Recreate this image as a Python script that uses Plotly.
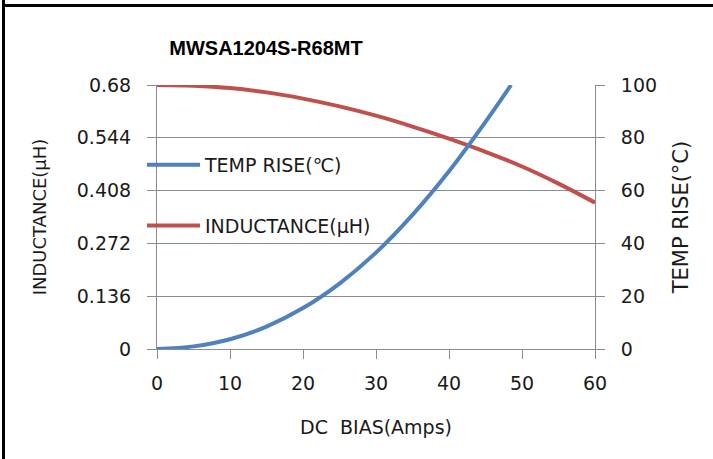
import plotly.graph_objects as go

# ---- data ----
bias_ind = [0, 5, 10, 15, 20, 25, 30, 35, 40, 45, 50, 55, 60]
inductance = [0.68, 0.678, 0.672, 0.661, 0.645, 0.625, 0.601, 0.573, 0.542, 0.508, 0.470, 0.426, 0.377]

bias_temp = [0, 5, 10, 15, 20, 25, 30, 35, 40, 45, 48.5]
temp_rise = [0, 1, 3.7, 8.5, 15.5, 24.8, 36.5, 50.8, 67.3, 86, 100]

left_ticks = [0, 0.136, 0.272, 0.408, 0.544, 0.68]
left_tick_text = ["0", "0.136", "0.272", "0.408", "0.544", "0.68"]
right_ticks = [0, 20, 40, 60, 80, 100]
x_ticks = [0, 10, 20, 30, 40, 50, 60]

BLUE = "#4F81BD"
RED = "#C0504D"
GRID = "#8C8C8C"
TXT = "#1a1a1a"
FONT = "DejaVu Sans"

W, H = 713, 459
L, R, T, B = 157, 118, 85, 110
pw, ph = W - L - R, H - T - B

def px(x):
    return (x - L) / pw

def py(y):
    return (H - B - y) / ph

fig = go.Figure()
fig.add_trace(go.Scatter(
    x=bias_ind, y=inductance, mode="lines", name="INDUCTANCE(μH)",
    line=dict(color=RED, width=4, shape="spline"), yaxis="y",
    legendrank=2, legendgroup="ind",
))
fig.add_trace(go.Scatter(
    x=bias_temp, y=temp_rise, mode="lines", name="TEMP RISE(℃)",
    line=dict(color=BLUE, width=4, shape="spline"), yaxis="y2",
    legendrank=1, legendgroup="temp",
))

axis_common = dict(
    showline=True, linecolor=GRID, linewidth=1,
    ticks="outside", ticklen=9, tickcolor=GRID, tickwidth=1,
    tickfont=dict(family=FONT, size=19, color=TXT),
    zeroline=False,
)

fig.update_layout(
    width=W, height=H,
    margin=dict(l=L, r=R, t=T, b=B),
    paper_bgcolor="white", plot_bgcolor="white",
    title=dict(text="<b>MWSA1204S-R68MT</b>", x=266 / W, xanchor="center",
               y=1 - 48 / H, yanchor="middle",
               font=dict(family="Liberation Sans", size=20, color="black")),
    xaxis=dict(range=[0, 60], tickvals=x_ticks, showgrid=False,
               title=dict(text="DC  BIAS(Amps)", font=dict(family=FONT, size=19, color=TXT), standoff=27),
               ticklabelstandoff=8,
               **axis_common),
    yaxis=dict(range=[0, 0.68], tickvals=left_ticks, ticktext=left_tick_text,
               showgrid=True, gridcolor=GRID, gridwidth=1,
               title=dict(text="INDUCTANCE(μH)", font=dict(family=FONT, size=18, color=TXT), standoff=25),
               ticklabelstandoff=12,
               **axis_common),
    yaxis2=dict(range=[0, 100], tickvals=right_ticks, overlaying="y", side="right",
                showgrid=False,
                title=dict(text="TEMP RISE(°C)", font=dict(family=FONT, size=21, color=TXT), standoff=17),
                ticklabelstandoff=12,
                **axis_common),
    legend=dict(x=px(142), y=py(146), xanchor="left", yanchor="top",
                bgcolor="rgba(0,0,0,0)", itemwidth=53, tracegroupgap=33,
                traceorder="grouped",
                font=dict(family=FONT, size=19, color=TXT)),
    showlegend=True,
    shapes=[
        dict(type="line", xref="paper", yref="paper", x0=px(3.5), x1=px(3.5), y0=py(0), y1=py(H),
             line=dict(color="black", width=3)),
        dict(type="line", xref="paper", yref="paper", x0=px(2), x1=px(W), y0=py(5.5), y1=py(5.5),
             line=dict(color="black", width=3)),
    ],
)

fig.write_html("out.html", config={"displayModeBar": False},
               post_script="document.body.style.margin='0';")
